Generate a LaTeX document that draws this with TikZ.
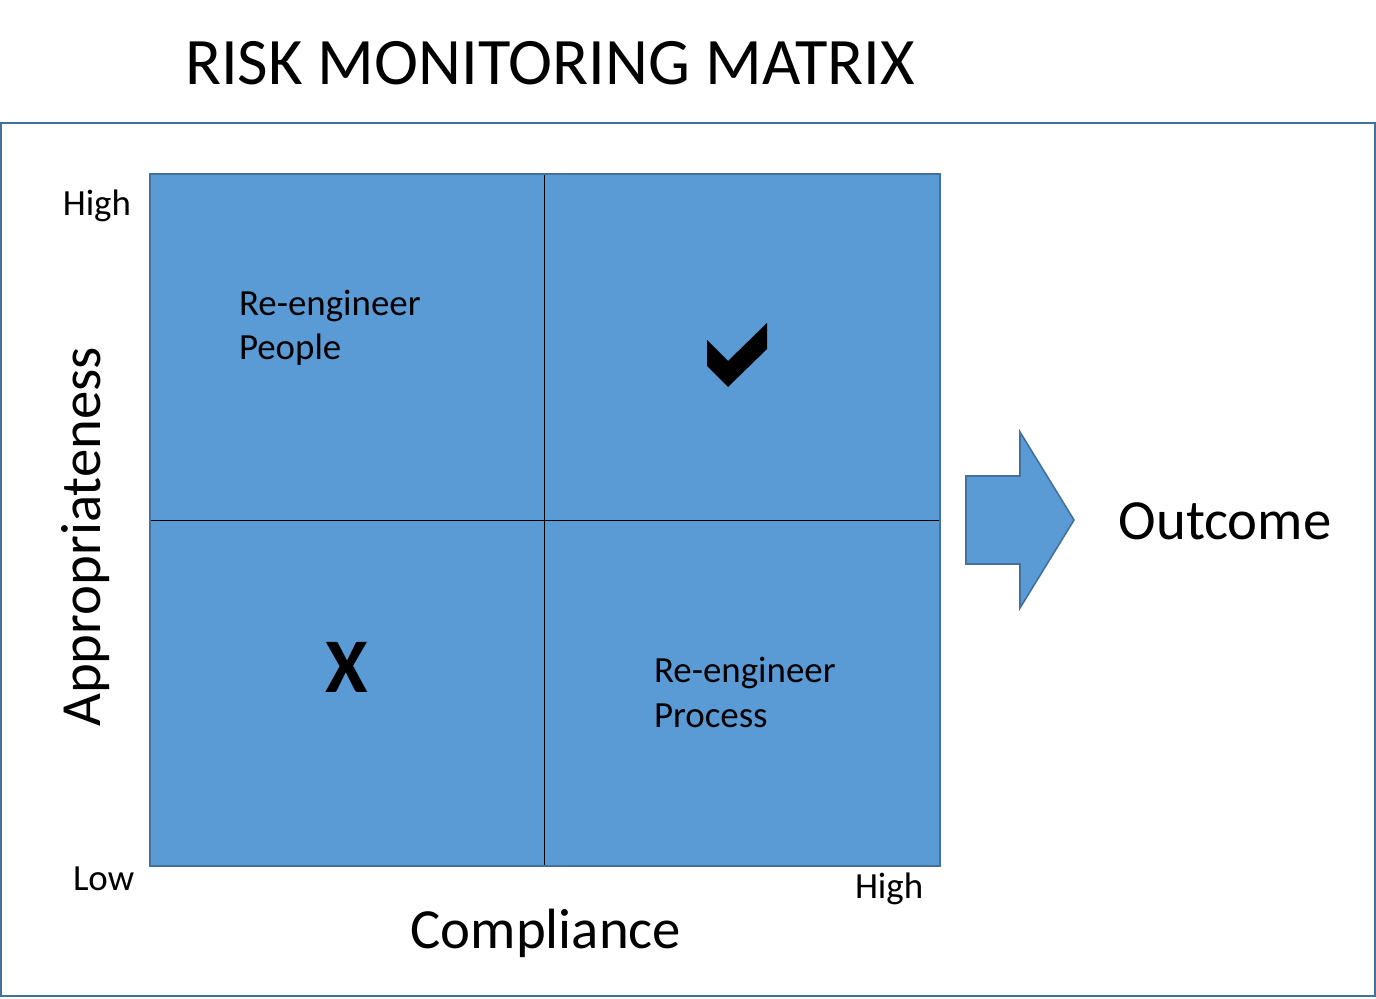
\documentclass[tikz,border=0pt]{standalone}
\usepackage{fontspec}
\setmainfont{Carlito}
\usepackage{xcolor}
\definecolor{CellBlue}{HTML}{5B9BD5}
\definecolor{FrameBlue}{HTML}{41719C}
\usepackage{tikz}
\usetikzlibrary{positioning}

\begin{document}
\begin{tikzpicture}[x=0.02cm, y=-0.02cm,
    every node/.style={inner sep=0pt, outer sep=0pt},
    small/.style={font=\fontsize{21}{25.5}\selectfont},
    large/.style={font=\fontsize{32.3}{38}\selectfont},
    cellline/.style={draw=black, line width=0.5pt}]
        \useasboundingbox (0,0) rectangle (1376,999);
        % frame and title
        \draw[FrameBlue, line width=1.2pt] (1,123) rectangle (1375,996);
        \node[anchor=base, font=\fontsize{37.8}{44}\selectfont] (title) at (550,85) {RISK MONITORING MATRIX};

        % the four quadrants
        \fill[CellBlue] (150,174) rectangle (940,866);
        \draw[cellline] (544,174) -- (544,866);
        \draw[cellline] (150,520) -- (940,520);
        \draw[FrameBlue, line width=0.9pt] (150,174) rectangle (940,866);

        \node[small, anchor=base west, align=left] (people) at (239,360) {Re-engineer\\People};
        \node[small, anchor=base west, align=left] (process) at (654,727) {Re-engineer\\Process};
        \fill[black] (707,340) -- (707,366) -- (728,387) -- (767,349) -- (767,323) -- (728,361) -- cycle;
        \node[anchor=base, font=\fontsize{44}{50}\selectfont\bfseries] (cross) at (347,693) {X};

        % axis labels
        \node[small, anchor=base east] (yhigh) at (131,216) {High};
        \node[small, anchor=base west] (ylow) at (73,890) {Low};
        \node[small, anchor=base west] (xhigh) at (855,898) {High};
        \node[large, anchor=base] (xlabel) at (546,948) {Compliance};
        \node[large, anchor=base, rotate=90] (ylabel) at (100,537) {Appropriateness};

        % outcome arrow
        \filldraw[fill=CellBlue, draw=FrameBlue, line width=0.9pt] (966,476) -- (1020,476) -- (1020,432) -- (1074,520) -- (1020,608) -- (1020,564) -- (966,564) -- cycle;
        \node[large, anchor=base] (outcome) at (1225,540) {Outcome};
    \end{tikzpicture}
\end{document}
